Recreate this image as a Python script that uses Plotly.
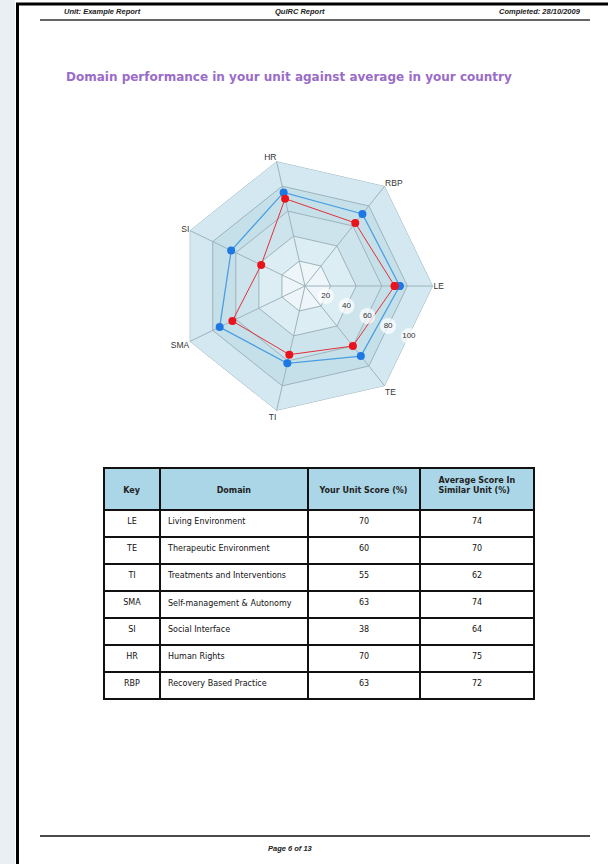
import math
import plotly.graph_objects as go

# ---------------- data ----------------
categories = ["LE", "TE", "TI", "SMA", "SI", "HR", "RBP"]
domain_names = ["Living Environment", "Therapeutic Environment", "Treatments and Interventions",
                "Self-management & Autonomy", "Social Interface", "Human Rights",
                "Recovery Based Practice"]
unit_scores = [70, 60, 55, 63, 38, 70, 63]
avg_scores = [74, 70, 62, 74, 64, 75, 72]
ring_levels = [20, 40, 60, 80, 100]
ring_labels = ["20", "40", "60", "80", "100"]
header_labels = ["&nbsp;<br>Key", "&nbsp;<br>Domain", "&nbsp;<br>Your Unit Score (%)",
                 "Average Score In<br>Similar Unit (%)"]

W, H = 608, 864


def px(x):
    return x / W


def py(y):
    return 1 - y / H


fig = go.Figure()
polar_domain = dict(x=[px(177), px(433)], y=[py(414), py(158)])

# background bands of the radar (outer to inner)
band_colors = {100: "#d3e8f0", 80: "#c6e0ea", 60: "#cde4ed", 40: "#dcedf3", 20: "#eef6f9"}
closed_theta = categories + [categories[0]]
for lvl in sorted(ring_levels, reverse=True):
    fig.add_trace(go.Scatterpolar(
        r=[lvl] * len(closed_theta), theta=closed_theta, mode="lines",
        fill="toself", fillcolor=band_colors[lvl],
        line=dict(color="#9db3bb", width=1), hoverinfo="skip"))

# spokes
for c in categories:
    fig.add_trace(go.Scatterpolar(
        r=[0, ring_levels[-1]], theta=[c, c], mode="lines",
        line=dict(color="#9db3bb", width=1), hoverinfo="skip"))

# series
fig.add_trace(go.Scatterpolar(
    r=avg_scores + [avg_scores[0]], theta=closed_theta, mode="lines+markers",
    line=dict(color="#4a9fe0", width=1.3),
    marker=dict(color="#1e78e4", size=8), name="Average"))
fig.add_trace(go.Scatterpolar(
    r=unit_scores + [unit_scores[0]], theta=closed_theta, mode="lines+markers",
    line=dict(color="#e0303a", width=1),
    marker=dict(color="#e8131b", size=8), name="Your unit"))

# radial scale labels, sitting on the polygon edges between LE and TE
half_step = 180 / len(categories)
fig.add_trace(go.Scatterpolar(
    r=[l * math.cos(math.radians(half_step)) for l in ring_levels],
    theta=[half_step] * len(ring_levels), mode="markers+text",
    text=ring_labels, textposition="middle center",
    textfont=dict(family="Liberation Sans", size=8, color="#333"),
    marker=dict(color="white", size=16, opacity=0.7),
    hoverinfo="skip", subplot="polar2"))

fig.update_layout(
    polar=dict(
        domain=polar_domain,
        bgcolor="rgba(0,0,0,0)",
        gridshape="linear",
        angularaxis=dict(direction="clockwise", rotation=0, showgrid=False, showline=False,
                         ticks="", tickfont=dict(family="Liberation Sans Narrow, Liberation Sans",
                                                 size=8.5, color="#333")),
        radialaxis=dict(range=[0, 100], tickvals=ring_levels, showgrid=False, showline=False,
                        ticks="", showticklabels=False),
    ),
    polar2=dict(
        domain=polar_domain,
        bgcolor="rgba(0,0,0,0)",
        angularaxis=dict(direction="clockwise", rotation=0, visible=False),
        radialaxis=dict(range=[0, 100], visible=False),
    ),
)

# table
cell_align = ["center", "left", "center", "center"]
fig.add_trace(go.Table(
    domain=dict(x=[px(104), px(534)], y=[py(760), py(468)]),
    columnwidth=[56, 148, 112, 114],
    header=dict(values=["<b>%s</b>" % h for h in header_labels],
                fill_color="#aad6e7", line=dict(color="#111", width=1.5),
                align="center", height=42,
                font=dict(family="DejaVu Sans", size=8, color="#222")),
    cells=dict(values=[categories, domain_names, unit_scores, avg_scores],
               fill_color="white", line=dict(color="#111", width=1.5),
               align=cell_align, height=27,
               font=dict(family="DejaVu Sans", size=8, color="#111")),
))

# page decorations
shapes = [
    dict(type="rect", xref="paper", yref="paper", x0=0, x1=px(15), y0=0, y1=1,
         fillcolor="#e9eff3", line=dict(width=0)),
    dict(type="line", xref="paper", yref="paper", x0=px(17.5), x1=px(17.5), y0=0, y1=py(3),
         line=dict(color="#000", width=3)),
    dict(type="line", xref="paper", yref="paper", x0=px(16), x1=1, y0=py(4), y1=py(4),
         line=dict(color="#000", width=3)),
    dict(type="line", xref="paper", yref="paper", x0=px(40), x1=px(590), y0=py(20), y1=py(20),
         line=dict(color="#666", width=2)),
    dict(type="line", xref="paper", yref="paper", x0=px(40), x1=px(590), y0=py(836), y1=py(836),
         line=dict(color="#111", width=1.5)),
]
hdr_font = dict(family="Liberation Sans", size=7.5, color="#222")
annotations = [
    dict(text="<b><i>Unit: Example Report</i></b>", x=px(62), y=py(12), xanchor="left",
         yanchor="middle", font=hdr_font),
    dict(text="<b><i>QuIRC Report</i></b>", x=px(300), y=py(12), xanchor="center",
         yanchor="middle", font=hdr_font),
    dict(text="<b><i>Completed: 28/10/2009</i></b>", x=px(583), y=py(12), xanchor="right",
         yanchor="middle", font=hdr_font),
    dict(text="<b><i>Page 6 of 13</i></b>", x=px(290), y=py(848), xanchor="center",
         yanchor="middle", font=hdr_font),
    dict(text="<b>Domain performance in your unit against average in your country</b>",
         x=px(64), y=py(77), xanchor="left", yanchor="middle",
         font=dict(family="DejaVu Sans", size=12, color="#9a6cc8")),
]
for a in annotations:
    a.update(xref="paper", yref="paper", showarrow=False)

fig.update_layout(
    width=W, height=H, margin=dict(l=0, r=0, t=0, b=0),
    paper_bgcolor="white", plot_bgcolor="white", showlegend=False,
    shapes=shapes, annotations=annotations,
)

fig.write_html("out.html")
